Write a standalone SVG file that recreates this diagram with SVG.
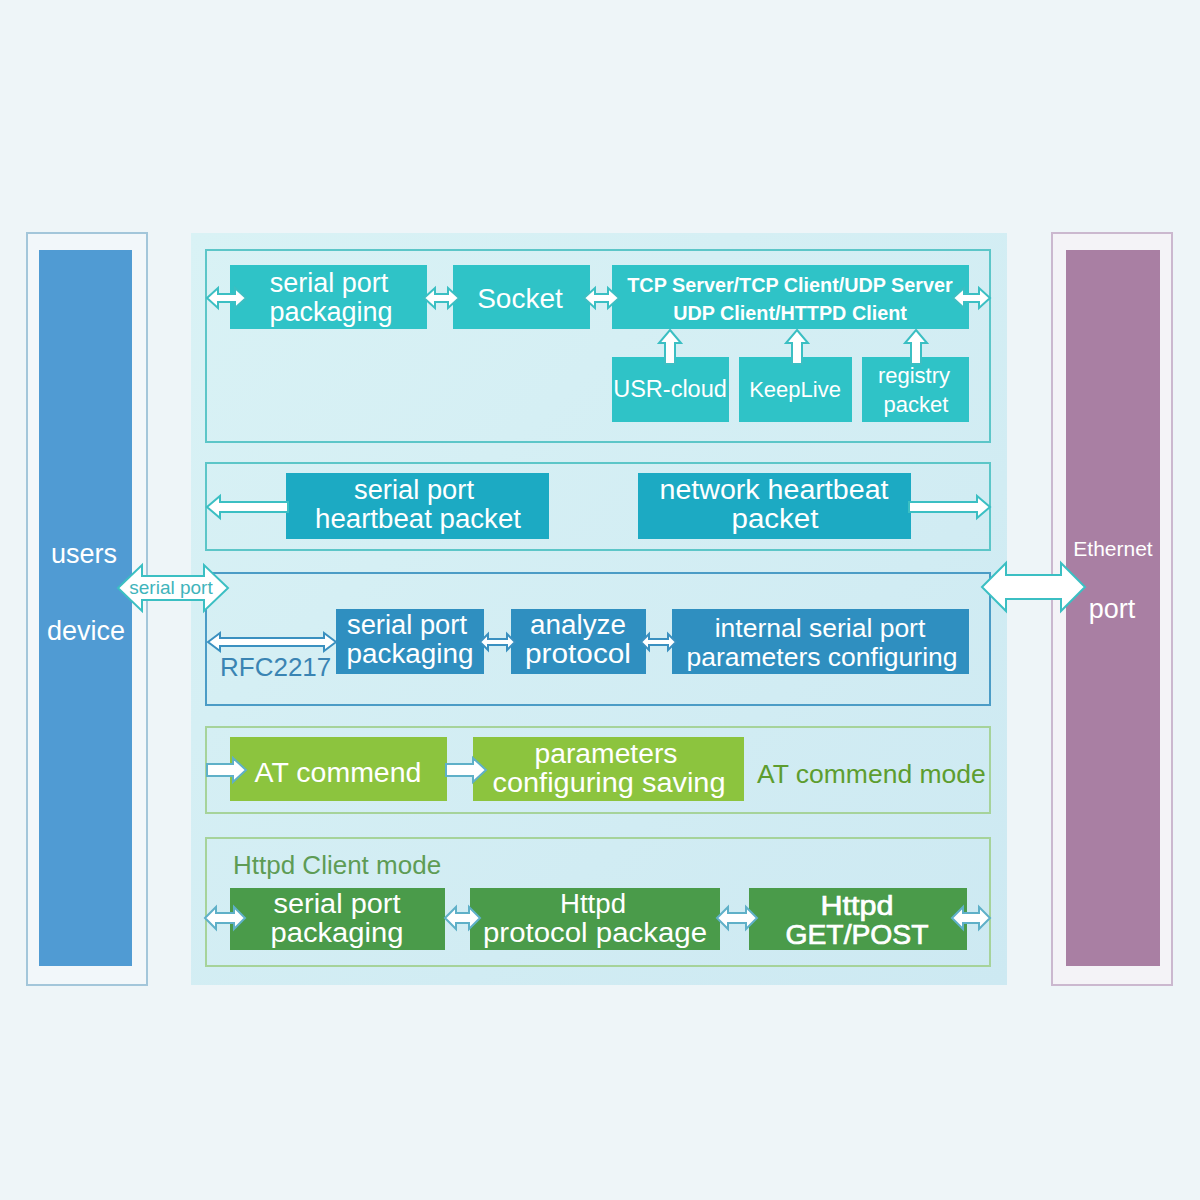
<svg xmlns="http://www.w3.org/2000/svg" width="1200" height="1200" viewBox="0 0 1200 1200">
<defs>
<linearGradient id="panel" x1="0" y1="0" x2="1" y2="1">
<stop offset="0" stop-color="#d9f2f5"/>
<stop offset="1" stop-color="#cde9f2"/>
</linearGradient>
<style>
text{font-family:"Liberation Sans",Arial,sans-serif;}
.w{fill:#ffffff;font-size:27px;text-anchor:middle;}
.tb{fill:#ffffff;font-size:19.8px;font-weight:bold;text-anchor:middle;}
.sec1{fill:none;stroke:#5cc6c8;stroke-width:2;}
.sec3{fill:none;stroke:#4b9cc6;stroke-width:2;}
.secg{fill:none;stroke:#a6d39a;stroke-width:2;}
.teal{fill:#2fc3c7;}
.cyan{fill:#1caac3;}
.blue{fill:#2f8fc0;}
.lgreen{fill:#8cc43e;}
.dgreen{fill:#4a9b4a;}
.arT{fill:#ffffff;stroke:#3bbfc3;stroke-width:2;stroke-linejoin:miter;}
.arB{fill:#ffffff;stroke:#3a90c0;stroke-width:2;}
.arG{fill:#ffffff;stroke:#5fb0c8;stroke-width:2;}
</style>
</defs>
<rect x="0" y="0" width="1200" height="1200" fill="#eef5f8"/>

<g id="users-device">
<rect x="27" y="233" width="120" height="752" fill="#f2f7fa" stroke="#a3c6da" stroke-width="2"/>
<rect x="39" y="250" width="93" height="716" fill="#509bd3"/>
<text class="w" x="84" y="563">users</text>
<text class="w" x="86" y="640">device</text>
</g>

<g id="ethernet-port">
<rect x="1052" y="233" width="120" height="752" fill="#f4f3f7" stroke="#cbb8cf" stroke-width="2"/>
<rect x="1066" y="250" width="94" height="716" fill="#a97fa3"/>
<text class="w" x="1113" y="556" style="font-size:21px">Ethernet</text>
<text class="w" x="1112" y="618">port</text>
</g>

<g id="center-panel">
<rect x="191" y="233" width="816" height="752" fill="url(#panel)"/>
</g>

<g id="section-socket">
<rect class="sec1" x="206" y="250" width="784" height="192"/>
<g id="n-serial-pack-1"><rect class="teal" x="230" y="265" width="197" height="64"/>
<text class="w" x="329" y="292">serial port</text>
<text class="w" x="331" y="321">packaging</text></g>
<g id="n-socket"><rect class="teal" x="453" y="265" width="137" height="64"/>
<text class="w" x="520" y="308" style="font-size:28px">Socket</text></g>
<g id="n-tcp"><rect class="teal" x="612" y="265" width="357" height="64"/>
<text class="tb" x="790" y="292">TCP Server/TCP Client/UDP Server</text>
<text class="tb" x="790" y="320">UDP Client/HTTPD Client</text></g>
<g id="n-usr"><rect class="teal" x="612" y="357" width="117" height="65"/>
<text class="w" x="670" y="397" style="font-size:23.5px">USR-cloud</text></g>
<g id="n-keeplive"><rect class="teal" x="739" y="357" width="113" height="65"/>
<text class="w" x="795" y="397" style="font-size:22px">KeepLive</text></g>
<g id="n-registry"><rect class="teal" x="862" y="357" width="107" height="65"/>
<text class="w" x="914" y="383" style="font-size:22px">registry</text>
<text class="w" x="916" y="412" style="font-size:22px">packet</text></g>
</g>

<g id="section-heartbeat">
<rect class="sec1" x="206" y="463" width="784" height="87"/>
<g id="n-serial-hb"><rect class="cyan" x="286" y="473" width="263" height="66"/>
<text class="w" x="414" y="499" style="font-size:27px" textLength="120" lengthAdjust="spacingAndGlyphs">serial port</text>
<text class="w" x="418" y="528" style="font-size:27px" textLength="206" lengthAdjust="spacingAndGlyphs">heartbeat packet</text></g>
<g id="n-net-hb"><rect class="cyan" x="638" y="473" width="273" height="66"/>
<text class="w" x="774" y="499" style="font-size:27px" textLength="229" lengthAdjust="spacingAndGlyphs">network heartbeat</text>
<text class="w" x="775" y="528" style="font-size:27px" textLength="87" lengthAdjust="spacingAndGlyphs">packet</text></g>
</g>

<g id="section-rfc">
<rect class="sec3" x="206" y="573" width="784" height="132"/>
<text x="220" y="676" style="font-size:26px;fill:#3a84b3">RFC2217</text>
<g id="n-serial-pack-2"><rect class="blue" x="336" y="609" width="148" height="65"/>
<text class="w" x="407" y="634" textLength="120" lengthAdjust="spacingAndGlyphs">serial port</text>
<text class="w" x="410" y="663" textLength="127" lengthAdjust="spacingAndGlyphs">packaging</text></g>
<g id="n-analyze"><rect class="blue" x="511" y="609" width="135" height="65"/>
<text class="w" x="578" y="634" textLength="96" lengthAdjust="spacingAndGlyphs">analyze</text>
<text class="w" x="578" y="663" textLength="106" lengthAdjust="spacingAndGlyphs">protocol</text></g>
<g id="n-internal"><rect class="blue" x="672" y="609" width="297" height="65"/>
<text class="w" x="820" y="637" style="font-size:26.5px">internal serial port</text>
<text class="w" x="822" y="666" style="font-size:26.5px">parameters configuring</text></g>
</g>

<g id="section-at">
<rect class="secg" x="206" y="727" width="784" height="86"/>
<g id="n-at"><rect class="lgreen" x="230" y="737" width="217" height="64"/>
<text class="w" x="338" y="782" style="font-size:28.5px">AT commend</text></g>
<g id="n-params"><rect class="lgreen" x="473" y="737" width="271" height="64"/>
<text class="w" x="606" y="763" textLength="143" lengthAdjust="spacingAndGlyphs">parameters</text>
<text class="w" x="609" y="792" textLength="233" lengthAdjust="spacingAndGlyphs">configuring saving</text></g>
<text x="757" y="783" style="font-size:26.5px;fill:#5d9d2f">AT commend mode</text>
</g>

<g id="section-httpd">
<rect class="secg" x="206" y="838" width="784" height="128"/>
<text x="233" y="874" style="font-size:26px;fill:#5e9c55">Httpd Client mode</text>
<g id="n-serial-pack-3"><rect class="dgreen" x="230" y="888" width="215" height="62"/>
<text class="w" x="337" y="913" textLength="127" lengthAdjust="spacingAndGlyphs">serial port</text>
<text class="w" x="337" y="942" textLength="133" lengthAdjust="spacingAndGlyphs">packaging</text></g>
<g id="n-httpd-proto"><rect class="dgreen" x="470" y="888" width="250" height="62"/>
<text class="w" x="593" y="913" textLength="66" lengthAdjust="spacingAndGlyphs">Httpd</text>
<text class="w" x="595" y="942" textLength="224" lengthAdjust="spacingAndGlyphs">protocol package</text></g>
<g id="n-httpd-get"><rect class="dgreen" x="749" y="888" width="218" height="62"/>
<text class="w" x="857" y="915" style="stroke:#ffffff;stroke-width:0.7" textLength="73" lengthAdjust="spacingAndGlyphs">Httpd</text>
<text class="w" x="857" y="944" style="stroke:#ffffff;stroke-width:0.7" textLength="143" lengthAdjust="spacingAndGlyphs">GET/POST</text></g>
</g>

<g id="connectors">
<path class="arT" d="M207,298 L218,288 L218,294 L235,294 L235,288 L246,298 L235,308 L235,302 L218,302 L218,308 Z"/>
<path class="arT" d="M424,298 L435,288 L435,294 L448,294 L448,288 L459,298 L448,308 L448,302 L435,302 L435,308 Z"/>
<path class="arT" d="M584,298 L595,288 L595,294 L608,294 L608,288 L619,298 L608,308 L608,302 L595,302 L595,308 Z"/>
<path class="arT" d="M953,298 L964,288 L964,294 L979,294 L979,288 L990,298 L979,308 L979,302 L964,302 L964,308 Z"/>
<path class="arT" d="M670,330 L681,343 L675,343 L675,364 L665,364 L665,343 L659,343 Z"/>
<path class="arT" d="M797,330 L808,343 L802,343 L802,364 L792,364 L792,343 L786,343 Z"/>
<path class="arT" d="M916,330 L927,343 L921,343 L921,364 L911,364 L911,343 L905,343 Z"/>
<path class="arT" d="M207,507 L220,496 L220,502 L288,502 L288,512 L220,512 L220,518 Z"/>
<path class="arT" d="M990,507 L977,496 L977,502 L909,502 L909,512 L977,512 L977,518 Z"/>
<path class="arT" d="M118,588 L142,565 L142,576 L204,576 L204,565 L228,588 L204,611 L204,600 L142,600 L142,611 Z"/>
<text x="171" y="594" style="font-size:19px;fill:#3fb4bb;text-anchor:middle">serial port</text>
<path class="arT" d="M982,587 L1006,563 L1006,575 L1061,575 L1061,563 L1085,587 L1061,611 L1061,599 L1006,599 L1006,611 Z"/>
<path class="arB" d="M208,642 L220,633 L220,638 L324,638 L324,633 L336,642 L324,651 L324,646 L220,646 L220,651 Z"/>
<path class="arB" d="M480,642 L488,634 L488,639 L507,639 L507,634 L515,642 L507,650 L507,645 L488,645 L488,650 Z"/>
<path class="arB" d="M641,642 L649,634 L649,639 L668,639 L668,634 L676,642 L668,650 L668,645 L649,645 L649,650 Z"/>
<path class="arG" d="M207,764 L233,764 L233,758 L246,770 L233,782 L233,776 L207,776 Z"/>
<path class="arG" d="M446,764 L473,764 L473,758 L486,770 L473,782 L473,776 L446,776 Z"/>
<path class="arG" d="M205,918 L216,907 L216,913 L234,913 L234,907 L245,918 L234,929 L234,923 L216,923 L216,929 Z"/>
<path class="arG" d="M445,918 L456,907 L456,913 L469,913 L469,907 L480,918 L469,929 L469,923 L456,923 L456,929 Z"/>
<path class="arG" d="M717,918 L728,907 L728,913 L746,913 L746,907 L757,918 L746,929 L746,923 L728,923 L728,929 Z"/>
<path class="arG" d="M952,918 L963,907 L963,913 L979,913 L979,907 L990,918 L979,929 L979,923 L963,923 L963,929 Z"/>
</g>
</svg>
